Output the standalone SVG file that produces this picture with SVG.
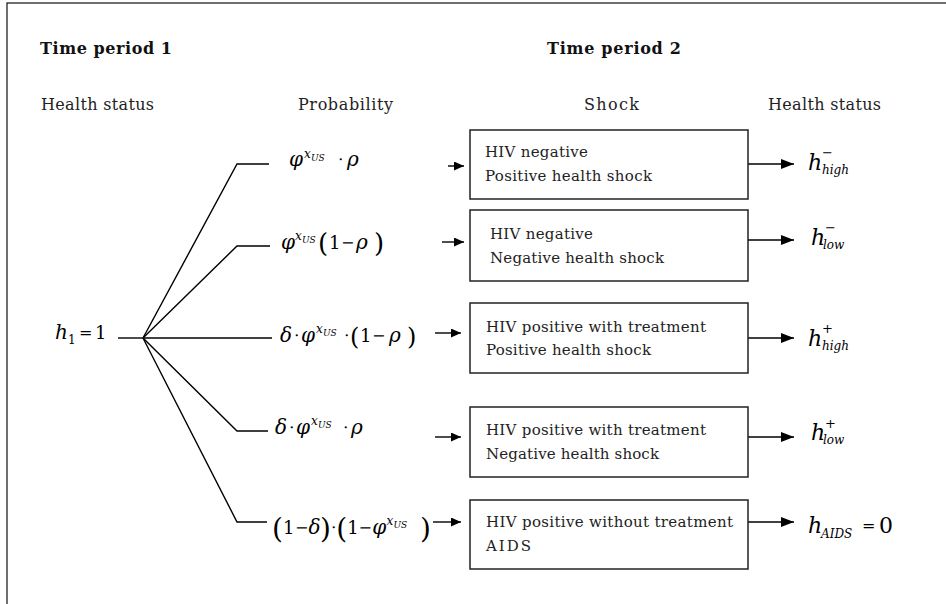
<svg xmlns="http://www.w3.org/2000/svg" width="946" height="604" viewBox="0 0 946 604" font-family="DejaVu Serif, serif">
<style>
text{font-family:'DejaVu Serif',serif}
.hd{font-size:16px;font-weight:bold;fill:#111}
.lb{font-size:16px;fill:#222}
.bx{font-size:15px;fill:#222}
.m{font-size:20px;fill:#000}
.i{font-style:italic}
.d{font-size:18px}
.o{font-size:16px}
.sup{font-style:italic;font-size:12px}
.us{font-style:italic;font-size:9px}
.hh{font-style:italic;font-size:22px;fill:#000}
.hs{font-style:italic;font-size:12px}
.sg{font-style:normal;font-size:13px}
.sb{font-style:normal;font-size:12px}
.box{fill:#fff;stroke:#222;stroke-width:1.5}
.ln{fill:none;stroke:#000;stroke-width:1.4}
.al{fill:none;stroke:#000;stroke-width:1.4;marker-end:url(#hl)}
.ar{fill:none;stroke:#000;stroke-width:1.3;marker-end:url(#hr)}
.frame{fill:none;stroke:#222;stroke-width:1.3}
</style>
<defs>
<marker id="hl" markerUnits="userSpaceOnUse" markerWidth="11" markerHeight="9" refX="10" refY="4.5" orient="auto"><path d="M0,0 L10,4.5 L0,9 z" fill="#000"/></marker>
<marker id="hr" markerUnits="userSpaceOnUse" markerWidth="14" markerHeight="10" refX="13" refY="5" orient="auto"><path d="M0,0 L13,5 L0,10 z" fill="#000"/></marker>
</defs>
<rect class="frame" x="7" y="3" width="1000" height="1000"/>

<text class="hd" x="40" y="54" textLength="132" lengthAdjust="spacing">Time period 1</text>
<text class="hd" x="547" y="54" textLength="134" lengthAdjust="spacing">Time period 2</text>
<text class="lb" x="41" y="110" textLength="113" lengthAdjust="spacing">Health status</text>
<text class="lb" x="298" y="110" textLength="95" lengthAdjust="spacing">Probability</text>
<text class="lb" x="584" y="110" textLength="55" lengthAdjust="spacing">Shock</text>
<text class="lb" x="768" y="110" textLength="113" lengthAdjust="spacing">Health status</text>

<g id="connectors">
<path class="ln" d="M118,338 H143"/>
<path class="ln" d="M143,338 L237,164 H269"/>
<path class="ln" d="M143,338 L237,246 H270"/>
<path class="ln" d="M143,338 H272"/>
<path class="ln" d="M143,338 L237,431 H268"/>
<path class="ln" d="M143,338 L237,522 H267"/>
<path class="al" d="M448,166 H464"/>
<path class="al" d="M442,242 H464"/>
<path class="al" d="M435,333 H461"/>
<path class="al" d="M435,437 H461"/>
<path class="al" d="M433,522 H461"/>
<path class="ar" d="M748,164 H794"/>
<path class="ar" d="M748,240 H794"/>
<path class="ar" d="M748,338 H794"/>
<path class="ar" d="M748,437 H794"/>
<path class="ar" d="M748,522 H794"/>
</g>

<g id="root">
<text class="m"><tspan class="i" x="55" y="339">h</tspan><tspan class="sb" x="68" y="344">1</tspan><tspan class="o" x="79" y="338">=</tspan><tspan class="d" x="95" y="339">1</tspan></text>
</g>

<g id="p1">
<text class="m"><tspan class="i" x="289" y="166">φ</tspan><tspan class="sup" x="304" y="158">x</tspan><tspan class="us" x="311" y="161">US</tspan><tspan class="o" x="338" y="165">⋅</tspan><tspan class="i" x="347" y="166">ρ</tspan></text>
</g>

<g id="p2">
<text class="m"><tspan class="i" x="281" y="249">φ</tspan><tspan class="sup" x="295" y="240">x</tspan><tspan class="us" x="302" y="243">US</tspan><tspan x="318" y="252" style="font-size:26px">(</tspan><tspan class="d" x="329" y="249">1</tspan><tspan class="o" x="341" y="248">−</tspan><tspan class="i" x="356" y="249">ρ</tspan><tspan x="374" y="252" style="font-size:26px">)</tspan></text>
</g>

<g id="p3">
<text class="m"><tspan class="i" x="280" y="342">δ</tspan><tspan class="o" x="294" y="341">⋅</tspan><tspan class="i" x="301" y="342">φ</tspan><tspan class="sup" x="316" y="333">x</tspan><tspan class="us" x="323" y="336">US</tspan><tspan class="o" x="344" y="341">⋅</tspan><tspan x="350" y="345" style="font-size:24px">(</tspan><tspan class="d" x="360" y="342">1</tspan><tspan class="o" x="372" y="341">−</tspan><tspan class="i" x="389" y="342">ρ</tspan><tspan x="407" y="345" style="font-size:24px">)</tspan></text>
</g>

<g id="p4">
<text class="m"><tspan class="i" x="275" y="434">δ</tspan><tspan class="o" x="289" y="433">⋅</tspan><tspan class="i" x="296" y="434">φ</tspan><tspan class="sup" x="311" y="425">x</tspan><tspan class="us" x="318" y="428">US</tspan><tspan class="o" x="343" y="433">⋅</tspan><tspan class="i" x="351" y="434">ρ</tspan></text>
</g>

<g id="p5">
<text class="m"><tspan x="272" y="538" style="font-size:28px">(</tspan><tspan class="d" x="283" y="534">1</tspan><tspan class="o" x="295" y="533">−</tspan><tspan class="i" x="308.5" y="534">δ</tspan><tspan x="320" y="538" style="font-size:28px">)</tspan><tspan class="o" x="331" y="533">⋅</tspan><tspan x="336.2" y="538" style="font-size:28px">(</tspan><tspan class="d" x="347.2" y="534">1</tspan><tspan class="o" x="358.6" y="533">−</tspan><tspan class="i" x="372.2" y="534">φ</tspan><tspan class="sup" x="386.5" y="525">x</tspan><tspan class="us" x="393.5" y="528">US</tspan><tspan x="420" y="538" style="font-size:28px">)</tspan></text>
</g>

<g id="box1">
<rect class="box" x="470" y="130" width="278" height="69"/>
<text class="bx" x="485" y="157" textLength="103" lengthAdjust="spacing">HIV negative</text>
<text class="bx" x="485" y="181" textLength="167" lengthAdjust="spacing">Positive health shock</text>
</g>
<g id="box2">
<rect class="box" x="470" y="210" width="278" height="71"/>
<text class="bx" x="490" y="239" textLength="103" lengthAdjust="spacing">HIV negative</text>
<text class="bx" x="490" y="263" textLength="174" lengthAdjust="spacing">Negative health shock</text>
</g>
<g id="box3">
<rect class="box" x="470" y="303" width="278" height="70"/>
<text class="bx" x="486" y="332" textLength="220" lengthAdjust="spacing">HIV positive with treatment</text>
<text class="bx" x="486" y="355" textLength="165" lengthAdjust="spacing">Positive health shock</text>
</g>
<g id="box4">
<rect class="box" x="470" y="407" width="278" height="70"/>
<text class="bx" x="486" y="435" textLength="220" lengthAdjust="spacing">HIV positive with treatment</text>
<text class="bx" x="486" y="459" textLength="173" lengthAdjust="spacing">Negative health shock</text>
</g>
<g id="box5">
<rect class="box" x="470" y="500" width="278" height="69"/>
<text class="bx" x="486" y="527" textLength="247" lengthAdjust="spacing">HIV positive without treatment</text>
<text class="bx" x="486" y="551" textLength="45" lengthAdjust="spacing">AIDS</text>
</g>

<g id="h1">
<text class="hh"><tspan x="808" y="170">h</tspan><tspan class="sg" x="822" y="157">−</tspan><tspan class="hs" x="822" y="174">high</tspan></text>
</g>
<g id="h2">
<text class="hh"><tspan x="811" y="245">h</tspan><tspan class="sg" x="825" y="232">−</tspan><tspan class="hs" x="823" y="249">low</tspan></text>
</g>
<g id="h3">
<text class="hh"><tspan x="808" y="346">h</tspan><tspan class="sg" x="822" y="333">+</tspan><tspan class="hs" x="822" y="350">high</tspan></text>
</g>
<g id="h4">
<text class="hh"><tspan x="811" y="440">h</tspan><tspan class="sg" x="825" y="428">+</tspan><tspan class="hs" x="823" y="444">low</tspan></text>
</g>
<g id="h5">
<text class="hh"><tspan x="808" y="533">h</tspan><tspan class="hs" x="821" y="538">AIDS</tspan><tspan class="o" style="font-style:normal" x="862" y="531">=</tspan><tspan style="font-style:normal" x="879" y="533">0</tspan></text>
</g>
</svg>
